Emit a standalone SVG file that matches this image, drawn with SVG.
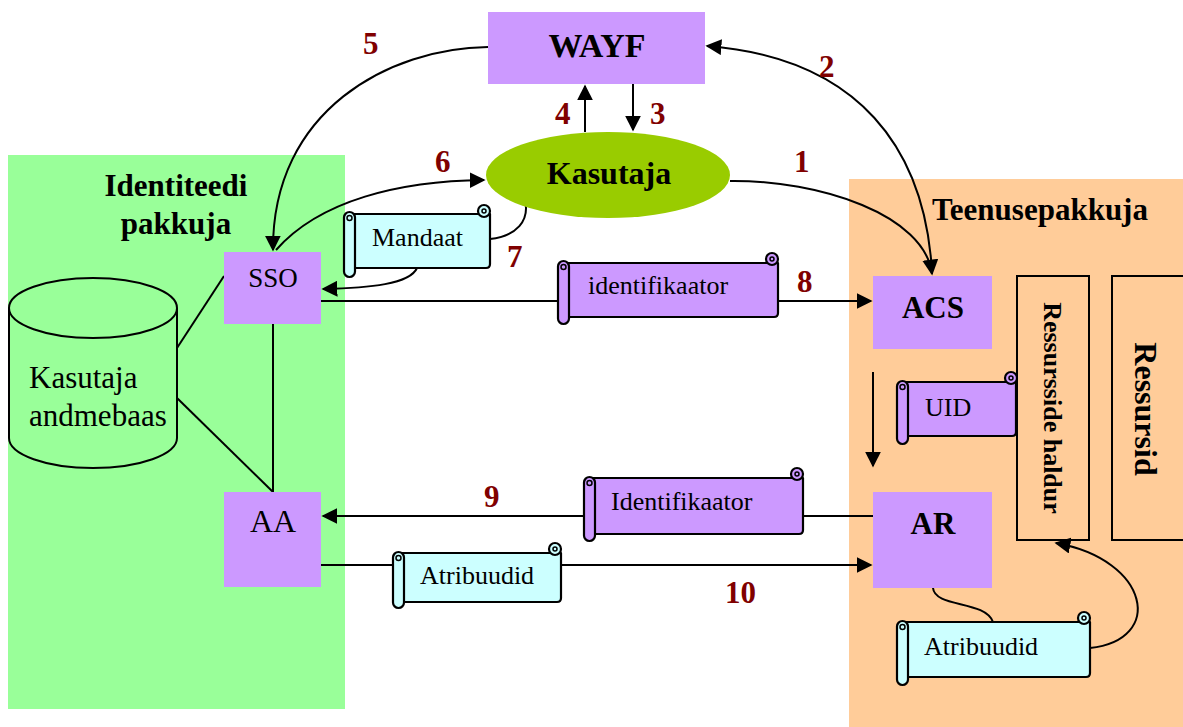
<svg xmlns="http://www.w3.org/2000/svg" width="1183" height="727" viewBox="0 0 1183 727">
  <style>
    .box { fill: #CC99FF; }
    .t { font-family: "Liberation Serif", "Times New Roman", serif; fill: #000; }
    .b { font-weight: bold; }
    .num { font-family: "Liberation Serif", "Times New Roman", serif; font-weight: bold; font-size: 31px; fill: #800000; }
    .ln { fill: none; stroke: #000; stroke-width: 2; }
    .scr { stroke: #000; stroke-width: 2.2; stroke-linejoin: round; }
    .cyan { fill: #CCFFFF; }
    .lil { fill: #CC99FF; }
  </style>
  <defs>
    <marker id="ahb" viewBox="0 0 10 10" refX="9" refY="5" markerWidth="16" markerHeight="16" markerUnits="userSpaceOnUse" orient="auto-start-reverse">
      <path d="M0,0 L10,5 L0,10 z" fill="#000"/>
    </marker>
  </defs>

  <rect width="1183" height="727" fill="#fff"/>

  <!-- organisation panels -->
  <g id="identity-provider">
    <rect x="8" y="155" width="337" height="554" fill="#99FF99"/>
    <text class="t b" x="176" y="196" font-size="31" text-anchor="middle">Identiteedi</text>
    <text class="t b" x="176" y="234" font-size="31" text-anchor="middle">pakkuja</text>
  </g>
  <g id="service-provider">
    <rect x="849" y="179" width="334" height="548" fill="#FFCC99"/>
    <text class="t b" x="932" y="220" font-size="31">Teenusepakkuja</text>
  </g>

  <!-- connectors -->
  <g id="connectors">
    <!-- 5: WAYF -> SSO -->
    <path class="ln" d="M488,47 C390,48 272,110 273,250" marker-end="url(#ahb)"/>
    <!-- 2: ACS <-> WAYF -->
    <path class="ln" d="M932,272 C925,150 860,58 707,46" marker-end="url(#ahb)"/>
    <!-- 1: Kasutaja -> ACS -->
    <path class="ln" d="M730,181 C820,180 925,215 932,274" marker-end="url(#ahb)"/>
    <!-- 4 / 3 -->
    <path class="ln" d="M585,132 V86" marker-end="url(#ahb)"/>
    <path class="ln" d="M633,84 V130" marker-end="url(#ahb)"/>
    <!-- 6: SSO -> Kasutaja -->
    <path class="ln" d="M276,250 C320,200 400,181 484,180" marker-end="url(#ahb)"/>
    <!-- 7: Kasutaja -> Mandaat -> SSO -->
    <path class="ln" d="M524,196 C532,222 515,236 490,239"/>
    <path class="ln" d="M417,268 C410,284 370,288 323,289" marker-end="url(#ahb)"/>
    <!-- 8: SSO -> ACS -->
    <path class="ln" d="M321,301 H871" marker-end="url(#ahb)"/>
    <!-- ACS -> AR -->
    <path class="ln" d="M873,372 V466" marker-end="url(#ahb)"/>
    <!-- 9: AR -> AA -->
    <path class="ln" d="M873,516 H323" marker-end="url(#ahb)"/>
    <!-- 10: AA -> AR -->
    <path class="ln" d="M321,565 H871" marker-end="url(#ahb)"/>
    <!-- AR -> Atribuudid -> Ressursside haldur -->
    <path class="ln" d="M933,588 C935,608 985,600 993,622"/>
    <path class="ln" d="M1090,648 C1165,640 1150,560 1056,543" marker-end="url(#ahb)"/>
    <!-- database links -->
    <path class="ln" d="M224,276 L177,348"/>
    <path class="ln" d="M177,398 L273,492"/>
    <path class="ln" d="M273,324 V492"/>
  </g>

  <!-- nodes -->
  <g id="wayf">
    <rect class="box" x="488" y="12" width="217" height="72"/>
    <text class="t b" x="597" y="57" font-size="34" text-anchor="middle">WAYF</text>
  </g>
  <g id="kasutaja">
    <ellipse cx="608" cy="175" rx="122" ry="43" fill="#99CC00"/>
    <text class="t b" x="609" y="184" font-size="32" text-anchor="middle">Kasutaja</text>
  </g>
  <g id="sso">
    <rect class="box" x="224" y="252" width="97" height="72"/>
    <text class="t" x="273" y="287" font-size="27" text-anchor="middle">SSO</text>
  </g>
  <g id="aa">
    <rect class="box" x="224" y="492" width="97" height="95"/>
    <text class="t" x="273" y="532" font-size="32" text-anchor="middle">AA</text>
  </g>
  <g id="database">
    <path d="M9,308 V438 A84,30 0 0 0 177,438 V308" fill="#99FF99" stroke="#000" stroke-width="2"/>
    <ellipse cx="93" cy="308" rx="84" ry="30" fill="#99FF99" stroke="#000" stroke-width="2"/>
    <text class="t" x="29" y="388" font-size="31">Kasutaja</text>
    <text class="t" x="29" y="426" font-size="31">andmebaas</text>
  </g>
  <g id="acs">
    <rect class="box" x="873" y="276" width="119" height="73"/>
    <text class="t b" x="933" y="318" font-size="31" text-anchor="middle">ACS</text>
  </g>
  <g id="ar">
    <rect class="box" x="873" y="492" width="119" height="96"/>
    <text class="t b" x="933" y="534" font-size="31" text-anchor="middle">AR</text>
  </g>
  <g id="ressursside-haldur">
    <rect x="1017" y="276" width="72" height="264" fill="none" stroke="#000" stroke-width="2"/>
    <text class="t b" transform="translate(1053,408) rotate(90)" y="9" font-size="26" text-anchor="middle">Ressursside haldur</text>
  </g>
  <g id="ressursid">
    <rect x="1112" y="276" width="80" height="264" fill="none" stroke="#000" stroke-width="2"/>
    <text class="t b" transform="translate(1146,409) rotate(90)" y="11" font-size="32" text-anchor="middle">Ressursid</text>
  </g>

  <!-- message scrolls -->
  <g id="scroll-mandaat" class="scr">
    <path class="cyan" d="M350,214 H490 V264 Q490,268 486,268 H350 Z"/>
    <circle class="cyan" cx="484" cy="211" r="6"/>
    <circle cx="484" cy="211" r="2" fill="none" stroke-width="1.5"/>
    <rect class="cyan" x="344" y="212" width="11" height="65" rx="5.5"/>
    <circle cx="349.5" cy="218" r="2.5" fill="none" stroke-width="1.5"/>
    <text class="t" x="372" y="246" font-size="26" stroke="none">Mandaat</text>
  </g>
  <g id="scroll-identifikaator" class="scr">
    <path class="lil" d="M564,263 H778 V313 Q778,317 774,317 H564 Z"/>
    <circle class="lil" cx="772" cy="259" r="6"/>
    <circle cx="772" cy="259" r="2" fill="none" stroke-width="1.5"/>
    <rect class="lil" x="558" y="261" width="11" height="63" rx="5.5"/>
    <circle cx="563.5" cy="267" r="2.5" fill="none" stroke-width="1.5"/>
    <text class="t" x="588" y="294" font-size="26" stroke="none">identifikaator</text>
  </g>
  <g id="scroll-uid" class="scr">
    <path class="lil" d="M902,382 H1016 V432 Q1016,436 1012,436 H902 Z"/>
    <circle class="lil" cx="1011" cy="378" r="6"/>
    <circle cx="1011" cy="378" r="2" fill="none" stroke-width="1.5"/>
    <rect class="lil" x="897" y="381" width="11" height="63" rx="5.5"/>
    <circle cx="902.5" cy="387" r="2.5" fill="none" stroke-width="1.5"/>
    <text class="t" x="925" y="416" font-size="26" stroke="none">UID</text>
  </g>
  <g id="scroll-identifikaator-2" class="scr">
    <path class="lil" d="M589,478 H803 V530 Q803,534 799,534 H589 Z"/>
    <circle class="lil" cx="797" cy="474" r="6"/>
    <circle cx="797" cy="474" r="2" fill="none" stroke-width="1.5"/>
    <rect class="lil" x="584" y="477" width="11" height="64" rx="5.5"/>
    <circle cx="589.5" cy="483" r="2.5" fill="none" stroke-width="1.5"/>
    <text class="t" x="611" y="510" font-size="26" stroke="none">Identifikaator</text>
  </g>
  <g id="scroll-atribuudid" class="scr">
    <path class="cyan" d="M398,553 H561 V598 Q561,602 557,602 H398 Z"/>
    <circle class="cyan" cx="555" cy="549" r="6"/>
    <circle cx="555" cy="549" r="2" fill="none" stroke-width="1.5"/>
    <rect class="cyan" x="393" y="552" width="11" height="56" rx="5.5"/>
    <circle cx="398.5" cy="558" r="2.5" fill="none" stroke-width="1.5"/>
    <text class="t" x="420" y="584" font-size="26" stroke="none">Atribuudid</text>
  </g>
  <g id="scroll-atribuudid-2" class="scr">
    <path class="cyan" d="M902,622 H1090 V673 Q1090,677 1086,677 H902 Z"/>
    <circle class="cyan" cx="1084" cy="618" r="6"/>
    <circle cx="1084" cy="618" r="2" fill="none" stroke-width="1.5"/>
    <rect class="cyan" x="897" y="621" width="11" height="64" rx="5.5"/>
    <circle cx="902.5" cy="627" r="2.5" fill="none" stroke-width="1.5"/>
    <text class="t" x="924" y="655" font-size="26" stroke="none">Atribuudid</text>
  </g>

  <!-- step numbers -->
  <g id="step-numbers">
    <text class="num" x="363" y="54">5</text>
    <text class="num" x="819" y="77">2</text>
    <text class="num" x="555" y="124">4</text>
    <text class="num" x="650" y="124">3</text>
    <text class="num" x="435" y="172">6</text>
    <text class="num" x="794" y="172">1</text>
    <text class="num" x="507" y="267">7</text>
    <text class="num" x="797" y="292">8</text>
    <text class="num" x="484" y="507">9</text>
    <text class="num" x="725" y="603">10</text>
  </g>
</svg>
